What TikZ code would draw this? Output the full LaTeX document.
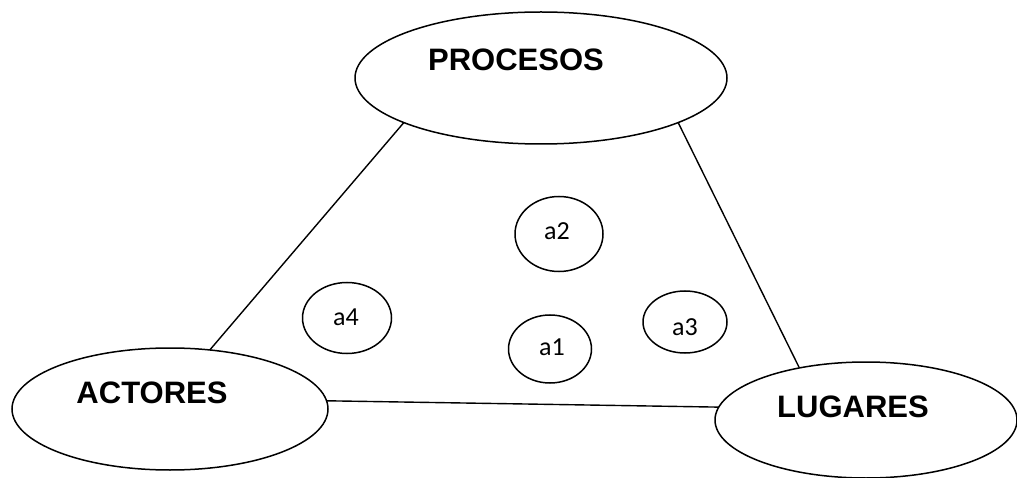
\documentclass[tikz,border=0pt]{standalone}
\usepackage{fontspec}
\setmainfont{Liberation Sans}
\newfontfamily\smallfont{Carlito}
\usetikzlibrary{shapes.geometric}
\begin{document}
\begin{tikzpicture}[x=1pt,y=-1pt,
  oval/.style={draw=black, line width=1.5pt, ellipse, inner sep=0pt, outer sep=0pt},
  bigtext/.style={font=\fontsize{31}{31}\selectfont\bfseries, inner sep=0pt},
  smalltext/.style={font=\smallfont\fontsize{26}{26}\selectfont, inner sep=0pt},
  link/.style={draw=black, line width=1.4pt}]
\useasboundingbox (0,0) rectangle (1017,478);
% main concepts
\node[oval, minimum width=372pt, minimum height=132pt] (P) at (541,78) {};
\node[oval, minimum width=316pt, minimum height=122pt] (A) at (170,409) {};
\node[oval, minimum width=302pt, minimum height=116pt] (L) at (866,420) {};
\node[bigtext] (Pt) at (516,60) {PROCESOS};
\node[bigtext] (At) at (152,393) {ACTORES};
\node[bigtext] (Lt) at (853,407) {LUGARES};
% inner elements
\node[oval, minimum width=88pt, minimum height=75pt] (a2) at (559,234) {};
\node[oval, minimum width=89pt, minimum height=71pt] (a4) at (347,318) {};
\node[oval, minimum width=83pt, minimum height=68pt] (a1) at (550,349) {};
\node[oval, minimum width=84pt, minimum height=62pt] (a3) at (685,322) {};
\node[smalltext] (a2t) at (557,231) {a2};
\node[smalltext] (a4t) at (346,317) {a4};
\node[smalltext] (a1t) at (552,347) {a1};
\node[smalltext] (a3t) at (685,327) {a3};
% links between concepts
\draw[link] (P.198) -- (A.56);
\draw[link] (P.342) -- (L.142);
\draw[link] (A.3) -- (L.175);
\end{tikzpicture}
\end{document}
